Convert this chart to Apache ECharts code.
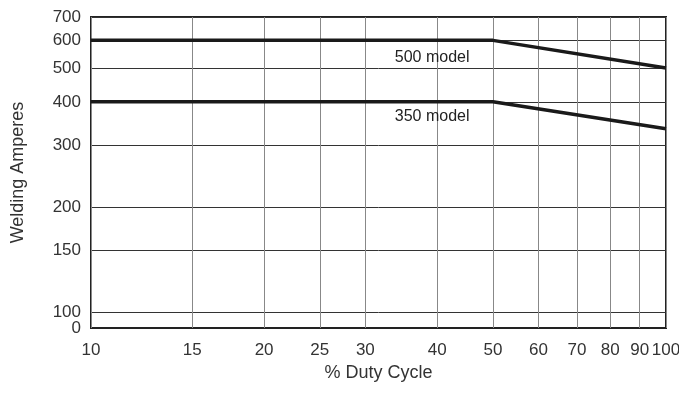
<!DOCTYPE html>
<html>
<head>
<meta charset="utf-8">
<script src="https://cdn.jsdelivr.net/npm/echarts@6/dist/echarts.min.js"></script>
<style>
  html, body { margin: 0; padding: 0; background: #fff; }
  #chart { width: 679px; height: 404px; }
</style>
</head>
<body>
<div id="chart"></div>
<script>
const xTicks = [10, 15, 20, 25, 30, 40, 50, 60, 70, 80, 90, 100]
const yTicks = [100, 150, 200, 300, 400, 500, 600, 700]
const yZero = [90] // bottom edge, printed as "0"
const model500 = [[10, 600], [50, 600], [100, 500]]
const model350 = [[10, 400], [50, 400], [100, 335]]
const labels = [
  { name: '500 model', coord: [39.2, 535] },
  { name: '350 model', coord: [39.2, 362] },
]

const font = '"Liberation Sans", Arial, sans-serif'
const chart = echarts.init(document.getElementById('chart'))

const lineSeries = (name, data, label) => ({
  name,
  type: 'line',
  data,
  symbol: 'none',
  lineStyle: { color: '#1a1a1a', width: 3.5 },
  markPoint: {
    symbol: 'circle',
    symbolSize: 0,
    label: {
      show: true,
      formatter: label.name,
      color: '#222',
      fontSize: 16,
      fontFamily: font,
    },
    data: [{ coord: label.coord }],
  },
  z: 5,
})

const yLabelStyle = {
  color: '#333',
  fontSize: 17,
  fontFamily: font,
  margin: 10,
  hideOverlap: false,
}

chart.setOption({
  animation: false,
  grid: {
    left: 91,
    right: 13,
    top: 17,
    bottom: 76,
    outerBoundsMode: 'none',
    show: true,
    borderColor: '#222',
    borderWidth: 2,
  },
  xAxis: {
    type: 'log',
    logBase: 10,
    min: 10,
    max: 100,
    name: '% Duty Cycle',
    nameLocation: 'middle',
    nameGap: 35,
    nameTextStyle: { color: '#333', fontSize: 18, fontFamily: font },
    axisLine: { show: false },
    axisTick: { show: false, customValues: xTicks },
    axisLabel: {
      customValues: xTicks,
      hideOverlap: false,
      color: '#333',
      fontSize: 17,
      fontFamily: font,
      margin: 14,
    },
    splitLine: { show: true, lineStyle: { color: '#888', width: 1 } },
    minorSplitLine: { show: false },
  },
  yAxis: [
    {
      type: 'log',
      logBase: 10,
      min: 90,
      max: 700,
      position: 'left',
      name: 'Welding Amperes',
      nameLocation: 'middle',
      nameGap: 64,
      nameTextStyle: { color: '#333', fontSize: 18, fontFamily: font },
      axisLine: { show: false },
      axisTick: { show: false, customValues: yTicks },
      axisLabel: { ...yLabelStyle, customValues: yTicks },
      splitLine: { show: true, lineStyle: { color: '#333', width: 1 } },
    },
    {
      type: 'log',
      logBase: 10,
      min: 90,
      max: 700,
      position: 'left',
      offset: 0,
      axisLine: { show: false },
      axisTick: { show: false, customValues: yZero },
      axisLabel: { ...yLabelStyle, customValues: yZero, formatter: () => '0' },
      splitLine: { show: false },
    },
  ],
  series: [
    lineSeries('500 model', model500, labels[0]),
    lineSeries('350 model', model350, labels[1]),
  ],
})
</script>
</body>
</html>
